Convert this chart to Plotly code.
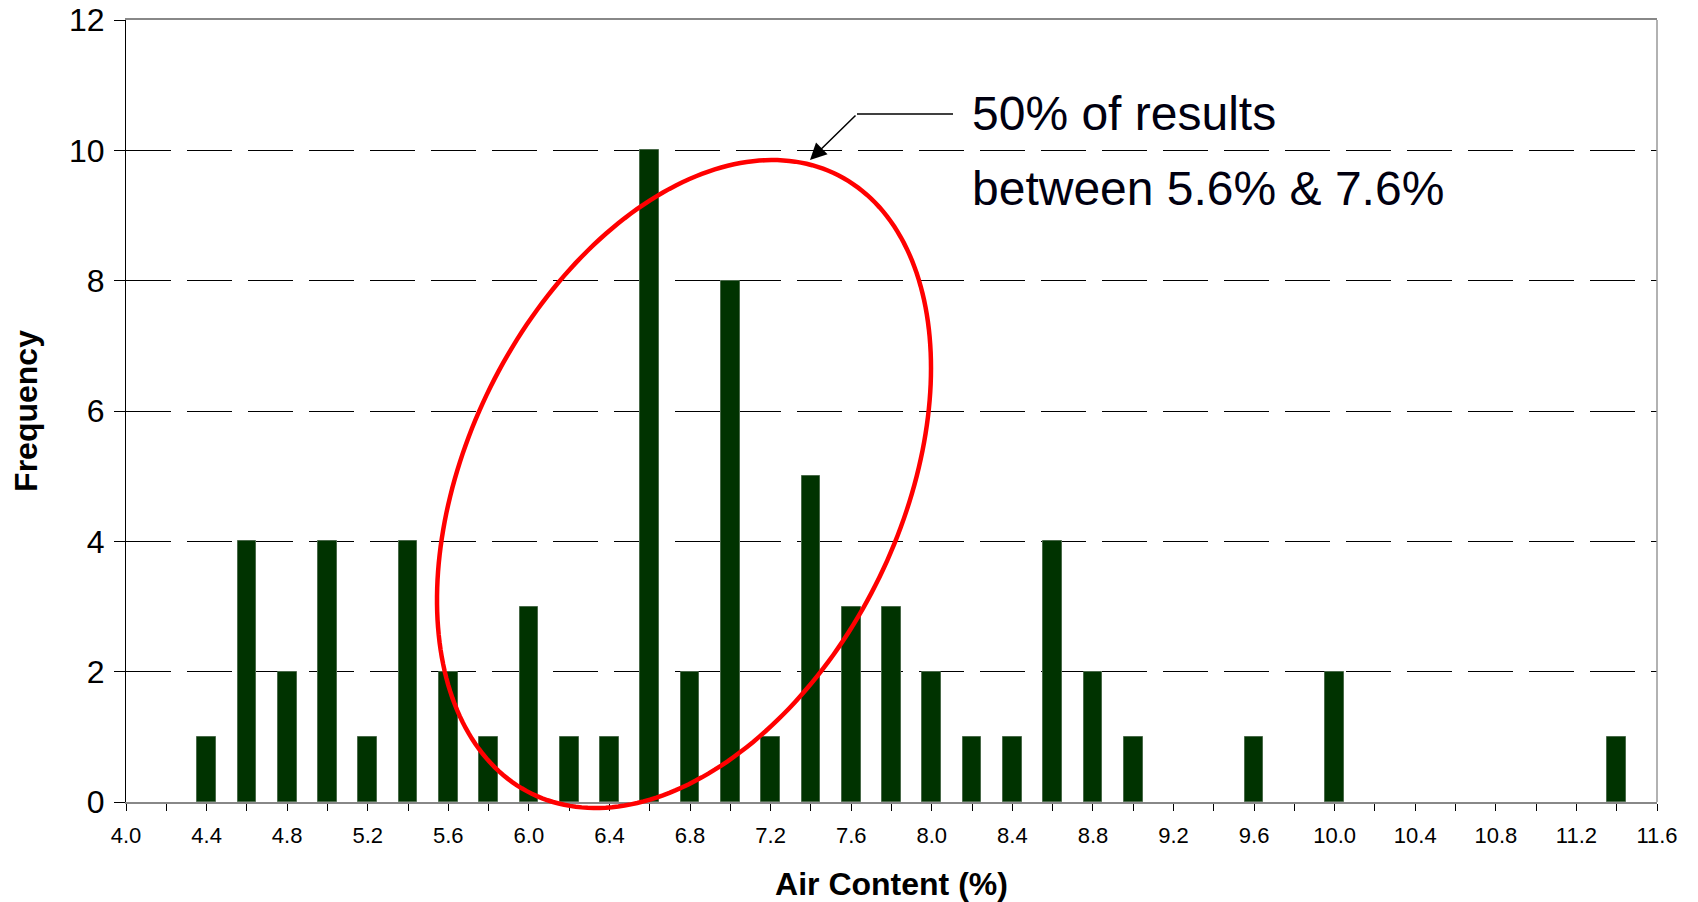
import numpy as np
import plotly.graph_objects as go

# ---- data ----
air_content = [4.4, 4.6, 4.8, 5.0, 5.2, 5.4, 5.6, 5.8, 6.0, 6.2, 6.4, 6.6, 6.8, 7.0,
               7.2, 7.4, 7.6, 7.8, 8.0, 8.2, 8.4, 8.6, 8.8, 9.0, 9.6, 10.0, 11.4]
frequency = [1, 4, 2, 4, 1, 4, 2, 1, 3, 1, 1, 10, 2, 8,
             1, 5, 3, 3, 2, 1, 1, 4, 2, 1, 1, 2, 1]
x_title = "Air Content (%)"
y_title = "Frequency"
note_line1 = "50% of results"
note_line2 = "between 5.6% & 7.6%"

OFF = 8  # page body margin
W, H = 1698 - OFF, 902 - OFF
L, R, T, B = 118, 41, 12, 100
PW, PH = W - L - R, H - T - B

def px2paper(wx, wy):
    """window pixel coords -> paper coords"""
    fx, fy = wx - OFF, wy - OFF
    return (fx - L) / PW, (H - B - fy) / PH

FONT = "Arial, Liberation Sans, sans-serif"

fig = go.Figure()
fig.add_trace(go.Bar(
    x=air_content, y=frequency, width=0.093,
    marker=dict(color="#003300", line=dict(color="#4a6a4a", width=1)),
    showlegend=False,
))

# ellipse highlight (window-pixel geometry -> paper coords)
t = np.linspace(0, 2 * np.pi, 240)
ex = 684 + 247 * np.cos(t)
ey = 484 - 116 * np.cos(t) + 302.5 * np.sin(t)
pts = [px2paper(a, b) for a, b in zip(ex, ey)]
path = "M " + " L ".join(f"{a:.5f},{b:.5f}" for a, b in pts) + " Z"

p_a = px2paper(857, 114)
p_b = px2paper(953, 114)
shapes = [
    dict(type="path", xref="paper", yref="paper", path=path,
         line=dict(color="#ff0000", width=4.5), layer="above"),
    # right border (gray)
    dict(type="line", xref="paper", yref="paper", x0=1, x1=1, y0=0, y1=1,
         line=dict(color="#999999", width=1.5)),
    # callout horizontal segment
    dict(type="line", xref="paper", yref="paper",
         x0=p_a[0], y0=p_a[1], x1=p_b[0], y1=p_b[1],
         line=dict(color="#000000", width=1.5)),
]

tip = px2paper(810, 160)
annotations = [
    dict(xref="paper", yref="paper", x=tip[0], y=tip[1], text="",
         showarrow=True, ax=47, ay=-46, arrowhead=2, arrowsize=2.2,
         arrowwidth=1.5, arrowcolor="#000000"),
    dict(xref="paper", yref="paper", x=px2paper(970, 0)[0], y=px2paper(0, 113)[1],
         text=note_line1, showarrow=False, xanchor="left", yanchor="middle",
         font=dict(family=FONT, size=48, color="#000010")),
    dict(xref="paper", yref="paper", x=px2paper(970, 0)[0], y=px2paper(0, 188)[1],
         text=note_line2, showarrow=False, xanchor="left", yanchor="middle",
         font=dict(family=FONT, size=48, color="#000010")),
]

fig.update_layout(
    width=W, height=H,
    margin=dict(l=L, r=R, t=T, b=B, autoexpand=False),
    paper_bgcolor="white", plot_bgcolor="white",
    bargap=0, shapes=shapes, annotations=annotations,
    font=dict(family=FONT, color="#000000"),
)

fig.update_xaxes(
    range=[4.0, 11.6], tick0=4.0, dtick=0.4, tickformat=".1f",
    ticks="outside", ticklen=7, tickcolor="#000000", tickwidth=1,
    minor=dict(dtick=0.2, tick0=4.0, ticks="outside", ticklen=7,
               tickcolor="#000000", tickwidth=1, showgrid=False),
    showgrid=False, zeroline=False,
    showline=True, linecolor="#888888", linewidth=2, mirror=True,
    tickfont=dict(family=FONT, size=22, color="#000000"),
    ticklabelstandoff=6, ticklabeloverflow="allow",
    title=dict(text=f"<b>{x_title}</b>", standoff=26,
               font=dict(family=FONT, size=32, color="#000000")),
)
fig.update_yaxes(
    range=[0, 12], dtick=2, tick0=0,
    ticks="outside", ticklen=11, tickcolor="#000000", tickwidth=1,
    showgrid=True, gridcolor="#000000", gridwidth=1, griddash="45px,16px",
    zeroline=False,
    showline=True, linecolor="#000000", linewidth=1,
    tickfont=dict(family=FONT, size=32, color="#000000"),
    ticklabelstandoff=3, ticklabeloverflow="allow",
    title=dict(text=f"<b>{y_title}</b>", standoff=21,
               font=dict(family=FONT, size=32, color="#000000")),
)

fig.write_html("out.html")
